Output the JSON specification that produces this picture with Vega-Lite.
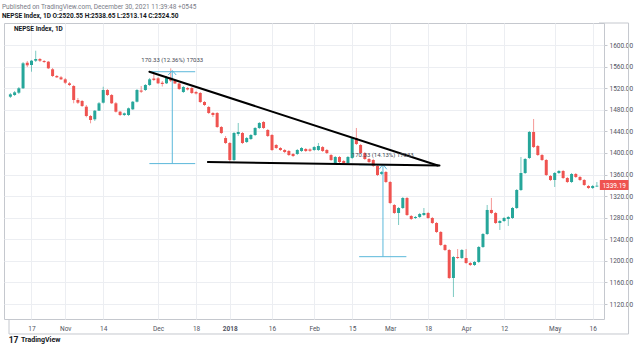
{
  "$schema": "https://vega.github.io/schema/vega-lite/v6.json",
  "autosize": "none",
  "width": 600,
  "height": 296,
  "padding": {"left": 4, "top": 23, "right": 35, "bottom": 33},
  "background": "white",
  "config": {"font": "Roboto", "view": {"stroke": "#c5c8ce"}, "axis": {"labelOverlap": false}, "axisY": {"labelOverlap": false}, "axisQuantitative": {"labelOverlap": false}},
  "title": {
    "text": "Published on TradingView.com, December 30, 2021 11:39:48 +0545",
    "subtitle": "NEPSE Index, 1D  O:2520.55 H:2538.65 L:2513.14 C:2524.50",
    "anchor": "start", "frame": "group", "orient": "top",
    "fontSize": 6.5, "fontWeight": "normal", "color": "#787b86",
    "subtitleFontSize": 6.5, "subtitleColor": "#131722", "subtitleFontWeight": "bold",
    "subtitlePadding": 3, "offset": 3, "dx": -2
  },
  "datasets": {
    "candles": [
      {"i":0,"o":1504.2,"h":1511.1,"l":1501.8,"c":1508.6},
      {"i":1,"o":1507.3,"h":1514.8,"l":1505.5,"c":1512.3},
      {"i":2,"o":1511.6,"h":1522.2,"l":1509.2,"c":1519.8},
      {"i":3,"o":1519.8,"h":1568.5,"l":1518.5,"c":1566.1},
      {"i":4,"o":1567.2,"h":1570.4,"l":1559.2,"c":1562.4},
      {"i":5,"o":1562.9,"h":1572.2,"l":1550.5,"c":1570.9},
      {"i":6,"o":1570.9,"h":1589.4,"l":1568.5,"c":1574.1},
      {"i":7,"o":1574.1,"h":1575.9,"l":1568.5,"c":1570.9},
      {"i":8,"o":1570.4,"h":1572.2,"l":1566.6,"c":1568.5},
      {"i":9,"o":1569.1,"h":1570.4,"l":1555.5,"c":1556.8},
      {"i":10,"o":1555.0,"h":1557.4,"l":1540.7,"c":1542.6},
      {"i":11,"o":1542.6,"h":1544.4,"l":1538.9,"c":1540.1},
      {"i":12,"o":1540.1,"h":1542.6,"l":1535.2,"c":1536.4},
      {"i":13,"o":1536.4,"h":1538.9,"l":1527.7,"c":1530.1},
      {"i":14,"o":1529.0,"h":1531.4,"l":1524.0,"c":1525.9},
      {"i":15,"o":1524.0,"h":1525.9,"l":1492.0,"c":1498.1},
      {"i":16,"o":1498.1,"h":1501.8,"l":1490.7,"c":1493.1},
      {"i":17,"o":1496.2,"h":1498.1,"l":1485.1,"c":1487.0},
      {"i":18,"o":1485.7,"h":1488.8,"l":1466.0,"c":1468.4},
      {"i":19,"o":1468.4,"h":1470.3,"l":1454.9,"c":1461.0},
      {"i":20,"o":1462.3,"h":1479.5,"l":1459.2,"c":1478.3},
      {"i":21,"o":1478.3,"h":1494.4,"l":1477.7,"c":1492.0},
      {"i":22,"o":1493.1,"h":1522.7,"l":1491.6,"c":1516.6},
      {"i":23,"o":1516.6,"h":1518.5,"l":1505.5,"c":1507.3},
      {"i":24,"o":1507.3,"h":1509.2,"l":1490.7,"c":1492.0},
      {"i":25,"o":1492.0,"h":1494.4,"l":1474.9,"c":1476.4},
      {"i":26,"o":1476.4,"h":1477.7,"l":1468.4,"c":1470.3},
      {"i":27,"o":1470.3,"h":1474.9,"l":1468.4,"c":1473.4},
      {"i":28,"o":1470.3,"h":1484.2,"l":1468.4,"c":1482.7},
      {"i":29,"o":1480.8,"h":1496.2,"l":1479.5,"c":1494.9},
      {"i":30,"o":1494.9,"h":1518.5,"l":1493.5,"c":1516.6},
      {"i":31,"o":1515.7,"h":1524.0,"l":1511.1,"c":1513.5},
      {"i":32,"o":1516.6,"h":1527.7,"l":1514.8,"c":1525.9},
      {"i":33,"o":1525.9,"h":1538.9,"l":1524.0,"c":1536.4},
      {"i":34,"o":1537.9,"h":1550.5,"l":1533.3,"c":1535.2},
      {"i":35,"o":1538.3,"h":1540.7,"l":1527.7,"c":1529.0},
      {"i":36,"o":1530.1,"h":1533.3,"l":1523.1,"c":1527.7},
      {"i":37,"o":1529.0,"h":1542.6,"l":1527.7,"c":1540.1},
      {"i":38,"o":1539.4,"h":1556.8,"l":1531.4,"c":1533.8},
      {"i":39,"o":1533.8,"h":1535.2,"l":1527.7,"c":1528.7},
      {"i":40,"o":1528.7,"h":1529.6,"l":1516.6,"c":1518.5},
      {"i":41,"o":1512.9,"h":1524.0,"l":1511.1,"c":1522.2},
      {"i":42,"o":1520.3,"h":1522.2,"l":1515.7,"c":1517.6},
      {"i":43,"o":1520.3,"h":1522.2,"l":1509.2,"c":1511.1},
      {"i":44,"o":1512.9,"h":1514.8,"l":1508.3,"c":1510.1},
      {"i":45,"o":1511.1,"h":1512.9,"l":1492.5,"c":1494.4},
      {"i":46,"o":1494.4,"h":1496.2,"l":1487.0,"c":1488.8},
      {"i":47,"o":1485.1,"h":1487.0,"l":1472.1,"c":1474.0},
      {"i":48,"o":1474.0,"h":1475.8,"l":1466.6,"c":1470.3},
      {"i":49,"o":1474.0,"h":1475.8,"l":1446.2,"c":1448.0},
      {"i":50,"o":1448.0,"h":1449.9,"l":1435.0,"c":1436.9},
      {"i":51,"o":1427.6,"h":1431.3,"l":1416.5,"c":1418.4},
      {"i":52,"o":1418.4,"h":1420.2,"l":1383.2,"c":1386.9},
      {"i":53,"o":1386.9,"h":1438.8,"l":1385.0,"c":1436.9},
      {"i":54,"o":1435.0,"h":1455.5,"l":1431.3,"c":1438.8},
      {"i":55,"o":1436.9,"h":1438.8,"l":1416.5,"c":1418.4},
      {"i":56,"o":1420.2,"h":1429.5,"l":1418.4,"c":1427.6},
      {"i":57,"o":1425.8,"h":1435.0,"l":1423.9,"c":1433.2},
      {"i":58,"o":1433.2,"h":1448.0,"l":1431.3,"c":1446.2},
      {"i":59,"o":1446.2,"h":1457.3,"l":1444.3,"c":1455.5},
      {"i":60,"o":1457.3,"h":1459.2,"l":1444.3,"c":1446.2},
      {"i":61,"o":1442.5,"h":1444.3,"l":1429.5,"c":1431.3},
      {"i":62,"o":1433.2,"h":1435.0,"l":1403.6,"c":1405.4},
      {"i":63,"o":1414.7,"h":1416.5,"l":1407.3,"c":1409.1},
      {"i":64,"o":1409.1,"h":1410.9,"l":1403.6,"c":1405.4},
      {"i":65,"o":1405.4,"h":1407.3,"l":1399.8,"c":1401.7},
      {"i":66,"o":1403.6,"h":1405.4,"l":1394.3,"c":1396.1},
      {"i":67,"o":1398.0,"h":1399.8,"l":1392.4,"c":1394.3},
      {"i":68,"o":1398.0,"h":1407.3,"l":1396.1,"c":1405.4},
      {"i":69,"o":1403.6,"h":1410.9,"l":1401.7,"c":1409.1},
      {"i":70,"o":1407.3,"h":1409.1,"l":1401.7,"c":1403.6},
      {"i":71,"o":1406.5,"h":1408.5,"l":1402.0,"c":1404.0},
      {"i":72,"o":1405.4,"h":1412.8,"l":1403.6,"c":1410.9},
      {"i":73,"o":1405.4,"h":1418.4,"l":1403.6,"c":1412.8},
      {"i":74,"o":1410.9,"h":1412.8,"l":1401.7,"c":1403.6},
      {"i":75,"o":1405.4,"h":1407.3,"l":1398.0,"c":1399.8},
      {"i":76,"o":1396.1,"h":1398.0,"l":1385.0,"c":1386.9},
      {"i":77,"o":1381.3,"h":1394.3,"l":1379.5,"c":1392.4},
      {"i":78,"o":1392.4,"h":1394.3,"l":1381.3,"c":1383.2},
      {"i":79,"o":1385.0,"h":1386.9,"l":1379.5,"c":1381.3},
      {"i":80,"o":1381.3,"h":1394.3,"l":1377.6,"c":1392.4},
      {"i":81,"o":1390.6,"h":1429.5,"l":1388.7,"c":1427.6},
      {"i":82,"o":1427.6,"h":1446.2,"l":1414.7,"c":1416.5},
      {"i":83,"o":1414.7,"h":1416.5,"l":1398.0,"c":1399.8},
      {"i":84,"o":1399.8,"h":1401.7,"l":1386.9,"c":1388.7},
      {"i":85,"o":1388.7,"h":1390.6,"l":1381.3,"c":1383.2},
      {"i":86,"o":1386.9,"h":1388.7,"l":1373.9,"c":1375.8},
      {"i":87,"o":1375.8,"h":1377.6,"l":1357.2,"c":1359.1},
      {"i":88,"o":1360.9,"h":1366.5,"l":1359.1,"c":1364.6},
      {"i":89,"o":1364.6,"h":1366.5,"l":1344.2,"c":1346.1},
      {"i":90,"o":1346.1,"h":1347.9,"l":1305.3,"c":1307.2},
      {"i":91,"o":1303.5,"h":1305.3,"l":1286.8,"c":1288.7},
      {"i":92,"o":1288.7,"h":1299.8,"l":1266.4,"c":1297.9},
      {"i":93,"o":1297.9,"h":1318.3,"l":1296.1,"c":1316.5},
      {"i":94,"o":1316.5,"h":1318.3,"l":1283.1,"c":1285.0},
      {"i":95,"o":1283.1,"h":1285.0,"l":1275.7,"c":1277.6},
      {"i":96,"o":1279.4,"h":1283.1,"l":1277.6,"c":1281.3},
      {"i":97,"o":1281.3,"h":1288.7,"l":1279.4,"c":1286.8},
      {"i":98,"o":1285.0,"h":1297.9,"l":1283.1,"c":1288.7},
      {"i":99,"o":1288.7,"h":1290.6,"l":1277.6,"c":1279.4},
      {"i":100,"o":1279.4,"h":1281.3,"l":1268.3,"c":1270.1},
      {"i":101,"o":1270.1,"h":1272.0,"l":1251.6,"c":1253.4},
      {"i":102,"o":1253.4,"h":1255.3,"l":1227.5,"c":1229.4},
      {"i":103,"o":1229.4,"h":1231.2,"l":1218.2,"c":1220.1},
      {"i":104,"o":1220.1,"h":1221.9,"l":1166.3,"c":1168.2},
      {"i":105,"o":1168.2,"h":1209.0,"l":1133.0,"c":1207.1},
      {"i":106,"o":1207.1,"h":1221.9,"l":1203.4,"c":1205.3},
      {"i":107,"o":1205.3,"h":1221.9,"l":1203.4,"c":1220.1},
      {"i":108,"o":1205.3,"h":1221.9,"l":1194.2,"c":1196.0},
      {"i":109,"o":1196.0,"h":1197.9,"l":1190.4,"c":1192.3},
      {"i":110,"o":1192.3,"h":1199.7,"l":1190.4,"c":1197.9},
      {"i":111,"o":1197.9,"h":1227.5,"l":1196.0,"c":1225.7},
      {"i":112,"o":1225.7,"h":1251.6,"l":1223.8,"c":1249.7},
      {"i":113,"o":1249.7,"h":1303.5,"l":1247.9,"c":1294.3},
      {"i":114,"o":1294.3,"h":1316.5,"l":1286.8,"c":1288.7},
      {"i":115,"o":1288.7,"h":1290.6,"l":1268.3,"c":1270.1},
      {"i":116,"o":1270.1,"h":1275.7,"l":1257.2,"c":1273.8},
      {"i":117,"o":1273.8,"h":1281.3,"l":1272.0,"c":1279.4},
      {"i":118,"o":1277.6,"h":1283.1,"l":1264.6,"c":1281.3},
      {"i":119,"o":1279.4,"h":1299.8,"l":1277.6,"c":1297.9},
      {"i":120,"o":1297.9,"h":1333.1,"l":1296.1,"c":1331.3},
      {"i":121,"o":1331.3,"h":1392.4,"l":1329.4,"c":1362.8},
      {"i":122,"o":1362.8,"h":1390.6,"l":1360.9,"c":1388.7},
      {"i":123,"o":1390.6,"h":1440.7,"l":1388.7,"c":1438.8},
      {"i":124,"o":1438.8,"h":1462.9,"l":1409.1,"c":1410.9},
      {"i":125,"o":1412.8,"h":1414.7,"l":1394.3,"c":1396.1},
      {"i":126,"o":1396.1,"h":1398.0,"l":1385.0,"c":1386.9},
      {"i":127,"o":1386.9,"h":1388.7,"l":1357.2,"c":1359.1},
      {"i":128,"o":1357.2,"h":1359.1,"l":1347.9,"c":1349.8},
      {"i":129,"o":1349.8,"h":1364.6,"l":1336.9,"c":1362.8},
      {"i":130,"o":1362.8,"h":1368.4,"l":1360.9,"c":1366.5},
      {"i":131,"o":1366.5,"h":1368.4,"l":1351.6,"c":1353.5},
      {"i":132,"o":1353.5,"h":1355.4,"l":1344.2,"c":1346.1},
      {"i":133,"o":1346.1,"h":1362.8,"l":1344.2,"c":1360.9},
      {"i":134,"o":1360.9,"h":1362.8,"l":1353.5,"c":1355.4},
      {"i":135,"o":1355.4,"h":1357.2,"l":1347.9,"c":1349.8},
      {"i":136,"o":1349.8,"h":1351.6,"l":1338.7,"c":1340.6},
      {"i":137,"o":1338.7,"h":1340.6,"l":1333.1,"c":1335.0},
      {"i":138,"o":1335.0,"h":1340.6,"l":1333.1,"c":1338.7},
      {"i":139,"o":1337.8,"h":1346.1,"l":1336.9,"c":1339.19}
    ],
    "trend": [
      {"x1":32.94,"y1":1550.5,"x2":101.3,"y2":1376.7},
      {"x1":46.8,"y1":1383.2,"x2":101.7,"y2":1376.7}
    ],
    "range": [
      {"x1":32.94,"y1":1550.5,"x2":43.8,"y2":1550.5},
      {"x1":32.94,"y1":1380.2,"x2":43.8,"y2":1380.2},
      {"x1":38.37,"y1":1380.2,"x2":38.37,"y2":1552.0},
      {"x1":37.4,"y1":1544.4,"x2":38.37,"y2":1552.7},
      {"x1":39.3,"y1":1544.4,"x2":38.37,"y2":1552.7},
      {"x1":82.66,"y1":1378.0,"x2":93.85,"y2":1378.0},
      {"x1":82.66,"y1":1207.7,"x2":93.85,"y2":1207.7},
      {"x1":88.3,"y1":1207.7,"x2":88.3,"y2":1378.5},
      {"x1":87.4,"y1":1369.7,"x2":88.3,"y2":1379.0},
      {"x1":89.2,"y1":1369.7,"x2":88.3,"y2":1379.0}
    ],
    "frame": [
      {"x1":139.5,"y1":1640.8,"x2":146.5,"y2":1640.8},
      {"x1":146.5,"y1":1640.8,"x2":146.5,"y2":1064.4},
      {"x1":-0.33,"y1":1064.4,"x2":146.5,"y2":1064.4},
      {"x1":-0.33,"y1":1092.2,"x2":-0.33,"y2":1064.4}
    ],
    "notes": [
      {"i":38.37,"p":1572.2,"t":"170.33 (12.36%) 17033"},
      {"i":88.25,"p":1396.1,"t":"170.33 (14.13%) 17033"}
    ],
    "legend": [{"i":0.84,"p":1629.6,"t":"NEPSE Index, 1D"}],
    "badge": [{"i1":139.7,"i2":146.5,"p1":1349.8,"p2":1331.3,"i":143.1,"p":1339.19,"t":"1339.19"}],
    "logo": [{"i":-0.4,"p":1053.3,"t":"17"}],
    "brand": [{"i":2.5,"p":1053.3,"t":"TradingView"}]
  },
  "layer": [
    {
      "data": {"name": "candles"},
      "mark": {"type": "rule", "strokeWidth": 1, "opacity": 0.6},
      "encoding": {
        "x": {"field": "i", "type": "quantitative", "title": null,
          "scale": {"type": "linear", "domain": [-0.33, 139.5], "nice": false, "zero": false},
          "axis": {
            "values": [5,13,22,35,44,52,62,72,81,90,99,108,117,129,138],
            "labelExpr": "['17','Nov','14','Dec','18','2018','16','Feb','15','Mar','18','Apr','12','May','16'][indexof([5,13,22,35,44,52,62,72,81,90,99,108,117,129,138], datum.value)]",
            "grid": true, "gridColor": "#eceef2", "ticks": false, "domain": false,
            "labelFontSize": 6.5, "labelColor": "#50535e", "labelPadding": 6,
            "labelFlush": false, "labelOverlap": false,
            "labelFontWeight": {"expr": "datum.value == 52 ? 'bold' : 'normal'"}
          }
        },
        "y": {"field": "l", "type": "quantitative", "title": null,
          "scale": {"type": "linear", "domain": [1092.2, 1640.8], "nice": false, "zero": false},
          "axis": {
            "orient": "right",
            "values": [1120,1160,1200,1240,1280,1320,1360,1400,1440,1480,1520,1560,1600],
            "tickCount": 13,
            "format": ".2f", "grid": true, "gridColor": "#eceef2",
            "tickSize": 3, "tickColor": "#c5c8ce", "domain": false,
            "labelFontSize": 6.5, "labelColor": "#50535e", "labelPadding": 2,
            "labelOverlap": false, "labelFlush": false, "labelBound": false
          }
        },
        "y2": {"field": "h"},
        "color": {"condition": {"test": "datum.c >= datum.o", "value": "#26a69a"}, "value": "#ef5350"}
      }
    },
    {
      "data": {"name": "candles"},
      "mark": {"type": "bar", "size": 3},
      "encoding": {
        "x": {"field": "i", "type": "quantitative", "title": null},
        "y": {"field": "o", "type": "quantitative", "title": null},
        "y2": {"field": "c"},
        "color": {"condition": {"test": "datum.c >= datum.o", "value": "#26a69a"}, "value": "#ef5350"}
      }
    },
    {
      "data": {"name": "range"},
      "mark": {"type": "rule", "strokeWidth": 1, "color": "#5bb8da"},
      "encoding": {
        "x": {"field": "x1", "type": "quantitative", "title": null},
        "y": {"field": "y1", "type": "quantitative", "title": null},
        "x2": {"field": "x2"},
        "y2": {"field": "y2"}
      }
    },
    {
      "data": {"name": "trend"},
      "mark": {"type": "rule", "strokeWidth": 2, "color": "#000000", "strokeCap": "round"},
      "encoding": {
        "x": {"field": "x1", "type": "quantitative", "title": null},
        "y": {"field": "y1", "type": "quantitative", "title": null},
        "x2": {"field": "x2"},
        "y2": {"field": "y2"}
      }
    },
    {
      "data": {"name": "frame"},
      "mark": {"type": "rule", "strokeWidth": 1, "color": "#c5c8ce"},
      "encoding": {
        "x": {"field": "x1", "type": "quantitative", "title": null},
        "y": {"field": "y1", "type": "quantitative", "title": null},
        "x2": {"field": "x2"},
        "y2": {"field": "y2"}
      }
    },
    {
      "data": {"name": "notes"},
      "mark": {"type": "text", "fontSize": 6, "color": "#434651", "align": "center", "baseline": "middle"},
      "encoding": {
        "x": {"field": "i", "type": "quantitative", "title": null},
        "y": {"field": "p", "type": "quantitative", "title": null},
        "text": {"field": "t"}
      }
    },
    {
      "data": {"name": "legend"},
      "mark": {"type": "text", "fontSize": 6.5, "fontWeight": "bold", "color": "#131722", "align": "left", "baseline": "middle"},
      "encoding": {
        "x": {"field": "i", "type": "quantitative", "title": null},
        "y": {"field": "p", "type": "quantitative", "title": null},
        "text": {"field": "t"}
      }
    },
    {
      "data": {"name": "badge"},
      "mark": {"type": "rect", "color": "#ef5350"},
      "encoding": {
        "x": {"field": "i1", "type": "quantitative", "title": null},
        "x2": {"field": "i2"},
        "y": {"field": "p1", "type": "quantitative", "title": null},
        "y2": {"field": "p2"}
      }
    },
    {
      "data": {"name": "badge"},
      "mark": {"type": "text", "fontSize": 6.5, "color": "#ffffff", "align": "center", "baseline": "middle"},
      "encoding": {
        "x": {"field": "i", "type": "quantitative", "title": null},
        "y": {"field": "p", "type": "quantitative", "title": null},
        "text": {"field": "t"}
      }
    },
    {
      "data": {"name": "logo"},
      "mark": {"type": "text", "fontSize": 8.5, "fontWeight": "bold", "color": "#131722", "align": "left", "baseline": "middle", "letterSpacing": -1},
      "encoding": {
        "x": {"field": "i", "type": "quantitative", "title": null},
        "y": {"field": "p", "type": "quantitative", "title": null},
        "text": {"field": "t"}
      }
    },
    {
      "data": {"name": "brand"},
      "mark": {"type": "text", "fontSize": 7, "fontWeight": "bold", "color": "#131722", "align": "left", "baseline": "middle"},
      "encoding": {
        "x": {"field": "i", "type": "quantitative", "title": null},
        "y": {"field": "p", "type": "quantitative", "title": null},
        "text": {"field": "t"}
      }
    }
  ]
}
